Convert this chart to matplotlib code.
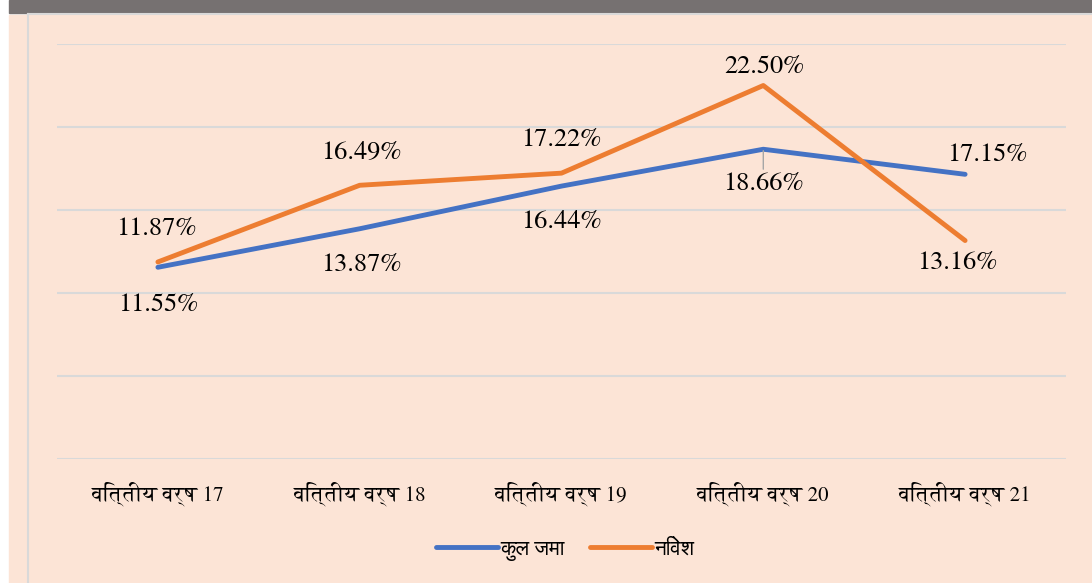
import matplotlib
matplotlib.use("Agg")
import matplotlib.pyplot as plt
from matplotlib.patches import Rectangle
from matplotlib.lines import Line2D

# data
years = ["वित्तीय वर्ष 17", "वित्तीय वर्ष 18", "वित्तीय वर्ष 19",
         "वित्तीय वर्ष 20", "वित्तीय वर्ष 21"]
kul_jama = [11.55, 13.87, 16.44, 18.66, 17.15]
nivesh = [11.87, 16.49, 17.22, 22.50, 13.16]
series_names = ["कुल जमा", "निवेश"]

# label offsets (points) relative to each point
blue_off = [(0, -27), (1, -26), (0, -26), (0, -25), (16, 14)]
orange_off = [(-1, 24), (1, 23), (0, 24), (1, 13), (-6, -16)]

# FreeSerif is Times-like and also carries Devanagari
serif_fam = ["FreeSerif", "DejaVu Sans"]
sans_fam = ["FreeSans", "DejaVu Sans"]

W, H = 1092, 583
fig = plt.figure(figsize=(W / 100, H / 100), dpi=100, facecolor="white")

# background pieces (kept below the axes)
fig.patches.append(Rectangle((9 / W, 0), 1 - 9 / W, 1 - 15 / H,
                             transform=fig.transFigure, color="#FCE4D6", zorder=-2))
fig.patches.append(Rectangle((9 / W, 1 - 13 / H), 1 - 9 / W, 13 / H,
                             transform=fig.transFigure, color="#767171", zorder=-2))
fig.lines.append(Line2D([28 / W, 28 / W], [0, 1 - 14 / H], transform=fig.transFigure,
                        color="#D9D9D9", lw=1.5, zorder=-1))
fig.lines.append(Line2D([28 / W, 1], [1 - 14 / H, 1 - 14 / H], transform=fig.transFigure,
                        color="#D9D9D9", lw=1.5, zorder=-1))

ax = fig.add_axes([57 / W, 1 - 459 / H, (1066 - 57) / W, 415 / H])
ax.set_facecolor("none")
x = list(range(len(years)))

ax.plot(x, kul_jama, color="#4472C4", lw=3.5, solid_capstyle="round",
        solid_joinstyle="round", label=series_names[0], zorder=3)
ax.plot(x, nivesh, color="#ED7D31", lw=3.5, solid_capstyle="round",
        solid_joinstyle="round", label=series_names[1], zorder=3)

for i, v in enumerate(kul_jama):
    kw = {}
    if i == 3:
        kw["arrowprops"] = dict(arrowstyle="-", color="#A6A6A6", lw=1,
                                shrinkA=0, shrinkB=1)
    ax.annotate(f"{v:.2f}%", (i, v), xytext=blue_off[i], textcoords="offset points",
                ha="center", va="center", fontsize=19, family=serif_fam, **kw)
for i, v in enumerate(nivesh):
    ax.annotate(f"{v:.2f}%", (i, v), xytext=orange_off[i], textcoords="offset points",
                ha="center", va="center", fontsize=19, family=serif_fam)

ax.set_xlim(-0.5, len(years) - 0.5)
ax.set_ylim(0, 25)
ax.set_yticks([0, 5, 10, 15, 20, 25])
ax.set_yticklabels([])
ax.grid(axis="y", color="#D9D9D9", lw=1.5)
ax.set_axisbelow(True)
ax.tick_params(axis="both", length=0)
ax.set_xticks(x)
ax.set_xticklabels(years, fontsize=15, family=serif_fam)
ax.tick_params(axis="x", pad=16)
for s in ax.spines.values():
    s.set_visible(False)

fig.legend(loc="center", bbox_to_anchor=(565 / W, 1 - 550 / H), ncol=2, frameon=False,
           handlelength=3.0, handletextpad=0.1, columnspacing=1.2,
           prop={"family": sans_fam, "size": 15})

fig.savefig("out.png", dpi=100, facecolor=fig.get_facecolor())
